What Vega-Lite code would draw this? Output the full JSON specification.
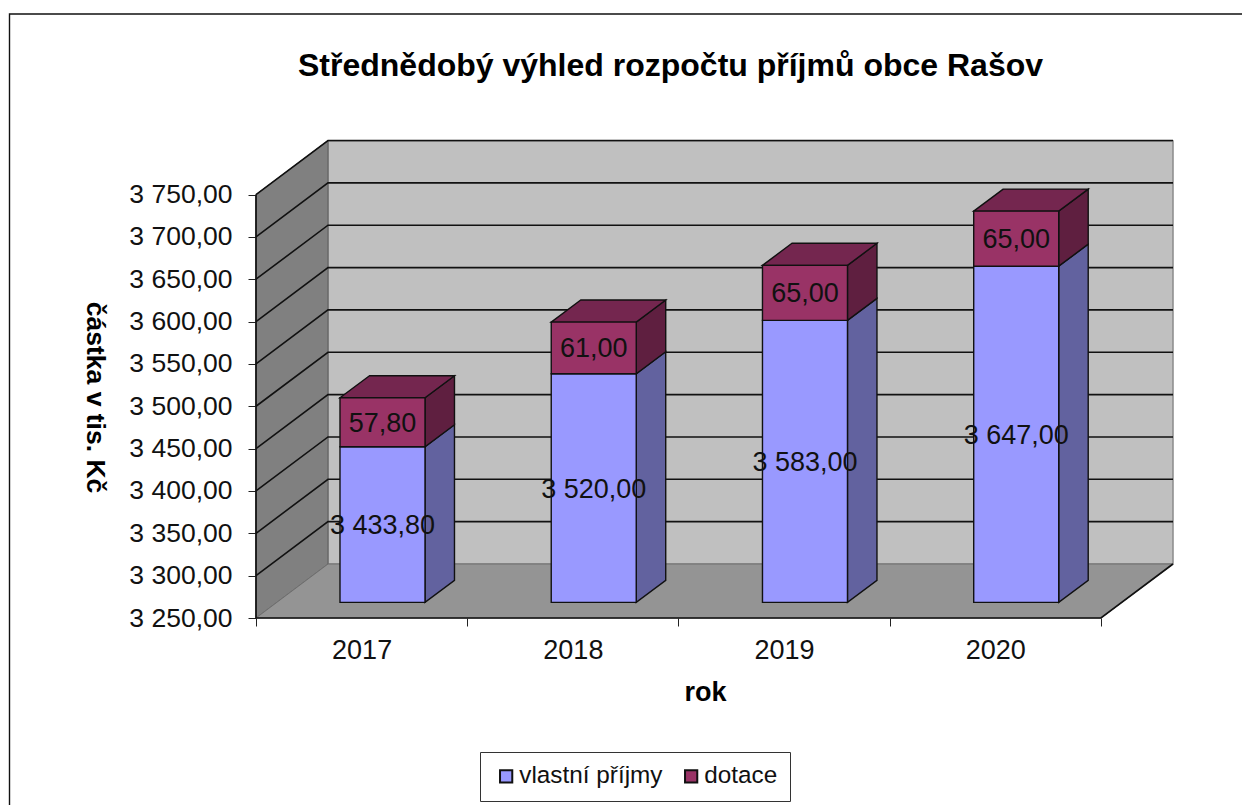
{
"$schema":"https://vega.github.io/schema/vega-lite/v6.json",
"width":917,"height":477,"autosize":{"type":"none"},
"padding":{"left":256,"top":141,"right":69,"bottom":187},
"background":"white",
"title":{"text":"Střednědobý výhled rozpočtu příjmů obce Rašov","anchor":"middle","frame":"group","dx":-44,"offset":-72,"fontSize":32,"fontWeight":"bold","font":"Liberation Sans","color":"#000000"},
"config":{"font":"Liberation Sans","view":{"stroke":null}},
"datasets":{
"sloupce":[
{"rok":"2017","i":0,"serie":"vlastní příjmy","hodnota":3433.8,"od":3250,"do":3433.8},
{"rok":"2017","i":0,"serie":"dotace","hodnota":57.8,"od":3433.8,"do":3491.6},
{"rok":"2018","i":1,"serie":"vlastní příjmy","hodnota":3520,"od":3250,"do":3520},
{"rok":"2018","i":1,"serie":"dotace","hodnota":61,"od":3520,"do":3581},
{"rok":"2019","i":2,"serie":"vlastní příjmy","hodnota":3583,"od":3250,"do":3583},
{"rok":"2019","i":2,"serie":"dotace","hodnota":65,"od":3583,"do":3648},
{"rok":"2020","i":3,"serie":"vlastní příjmy","hodnota":3647,"od":3250,"do":3647},
{"rok":"2020","i":3,"serie":"dotace","hodnota":65,"od":3647,"do":3712}
],
"mrizka":[{"v":3300},{"v":3350},{"v":3400},{"v":3450},{"v":3500},{"v":3550},{"v":3600},{"v":3650},{"v":3700},{"v":3750}]
},
"encoding":{
"x":{"field":"x","type":"quantitative","scale":{"domain":[0,4.341],"nice":false,"zero":false},
"axis":{"values":[0,0.5,1,1.5,2,2.5,3,3.5,4],"domain":false,"grid":false,"tickSize":8,"tickColor":"#222222","tickWidth":1,"tickOpacity":{"condition":{"test":"datum.value%1==0","value":1},"value":0},
"labelExpr":"datum.value%1==0.5?''+(2017+floor(datum.value)):''","labelOverlap":false,"labelFlush":false,"labelFontSize":27,"labelColor":"#111111","labelPadding":11,
"title":"rok","titleFontSize":27,"titleFontWeight":"bold","titleColor":"#000000","titleX":449,"titleY":61}},
"y":{"field":"y","type":"quantitative","scale":{"domain":[3250,3813.2],"nice":false,"zero":false},
"axis":{"values":[3250,3300,3350,3400,3450,3500,3550,3600,3650,3700,3750],"domain":false,"grid":false,"tickSize":8,"tickColor":"#222222","tickWidth":1,
"labelExpr":"replace(replace(format(datum.value,',.2f'),',',' '),'.',',')","labelOverlap":false,"labelFlush":false,"labelFontSize":26.5,"labelColor":"#111111","labelPadding":16,
"title":"částka v tis. Kč","titleFontSize":26.5,"titleFontWeight":"bold","titleColor":"#000000","titleAngle":90,"titleX":-176,"titleY":256}}
},
"layer":[
{"data":{"values":[{"x":0.3408,"y":3313.75}]},
 "transform":[{"calculate":"4.341","as":"x2"},{"calculate":"3813.2","as":"y2"}],
 "mark":{"type":"rect","fill":"#c0c0c0","stroke":"#8a8a8a","strokeWidth":1.5},
 "encoding":{"x2":{"field":"x2"},"y2":{"field":"y2"}}},
{"data":{"values":[{"x":0,"y":3250,"y2":3750},{"x":0.3408,"y":3313.75,"y2":3813.75}]},
 "mark":{"type":"area","fill":"#808080","stroke":"#5f5f5f","strokeWidth":1,"opacity":1},
 "encoding":{"y2":{"field":"y2"}}},
{"data":{"values":[{"y":3250,"x":0,"x2":4},{"y":3313.75,"x":0.3408,"x2":4.341}]},
 "mark":{"type":"area","orient":"horizontal","fill":"#949494","stroke":"#6e6e6e","strokeWidth":1},
 "encoding":{"x2":{"field":"x2"}}},
{"data":{"name":"mrizka"},
 "transform":[{"calculate":"[0,1,2]","as":"t"},{"flatten":["t"]},
  {"calculate":"datum.t==0?0:(datum.t==1?0.3408:4.341)","as":"x"},
  {"calculate":"datum.v+(datum.t==0?0:63.75)","as":"y"}],
 "mark":{"type":"line","color":"#111111","strokeWidth":1.6},
 "encoding":{"detail":{"field":"v"},"order":{"field":"t"}}},
{"data":{"values":[{"n":0,"x":0,"y":3750},{"n":1,"x":0,"y":3250},{"n":2,"x":4,"y":3250},{"n":3,"x":4.3408,"y":3313.75}]},
 "mark":{"type":"line","color":"#111111","strokeWidth":1.7},
 "encoding":{"order":{"field":"n"}}},
{"data":{"values":[{"n":0,"x":-1.1669,"y":3029},{"n":1,"x":-1.1669,"y":3963.1},{"n":2,"x":4.7,"y":3963.1}]},
 "mark":{"type":"line","color":"#111111","strokeWidth":1.4,"clip":false},
 "encoding":{"order":{"field":"n"}}},
{"data":{"name":"sloupce"},
 "transform":[{"calculate":"[0,1]","as":"t"},{"flatten":["t"]},
  {"calculate":"datum.i+0.8+datum.t*0.1396","as":"x"},
  {"calculate":"datum.do+18.4+datum.t*26","as":"y"},
  {"calculate":"datum.od+18.4+datum.t*26","as":"y2"}],
 "mark":{"type":"area","stroke":"#111111","strokeWidth":1.4},
 "encoding":{"y2":{"field":"y2"},"detail":[{"field":"rok"},{"field":"serie"}],
  "fill":{"condition":{"test":"datum.serie=='dotace'","value":"#5f1f40"},"value":"#62629f"}}},
{"data":{"name":"sloupce"},
 "transform":[{"filter":"datum.serie=='dotace'"},{"calculate":"[0,1]","as":"t"},{"flatten":["t"]},
  {"calculate":"datum.i+0.3976+datum.t*0.1396","as":"x"},
  {"calculate":"datum.i+0.8+datum.t*0.1396","as":"x2"},
  {"calculate":"datum.do+18.4+datum.t*26","as":"y"}],
 "mark":{"type":"area","orient":"horizontal","fill":"#74264f","stroke":"#111111","strokeWidth":1.4},
 "encoding":{"x2":{"field":"x2"},"detail":{"field":"rok"}}},
{"data":{"name":"sloupce"},
 "transform":[{"calculate":"datum.i+0.3976","as":"x"},{"calculate":"datum.i+0.8","as":"x2"},
  {"calculate":"datum.do+18.4","as":"y"},{"calculate":"datum.od+18.4","as":"y2"}],
 "mark":{"type":"rect","stroke":"#111111","strokeWidth":1.4},
 "encoding":{"x2":{"field":"x2"},"y2":{"field":"y2"},
  "color":{"field":"serie","type":"nominal","scale":{"domain":["vlastní příjmy","dotace"],"range":["#9999ff","#993366"]},
   "legend":{"title":null,"orient":"none","legendX":224,"legendY":611,"direction":"horizontal","fillColor":"white","strokeColor":"#333333","padding":12,"symbolOffset":2,"symbolType":"square","symbolSize":150,"symbolStrokeColor":"#111111","symbolStrokeWidth":2,"labelFontSize":24.3,"labelColor":"#111111","labelOffset":1,"columnPadding":14}}}},
{"data":{"name":"sloupce"},
 "transform":[{"calculate":"datum.i+0.5988","as":"x"},{"calculate":"(datum.do+datum.od)/2+18.4","as":"y"},
  {"calculate":"replace(replace(format(datum.hodnota,',.2f'),',',' '),'.',',')","as":"popisek"}],
 "mark":{"type":"text","fontSize":27,"color":"#111111","baseline":"middle","align":"center","dy":1.5},
 "encoding":{"text":{"field":"popisek"}}}
]
}
